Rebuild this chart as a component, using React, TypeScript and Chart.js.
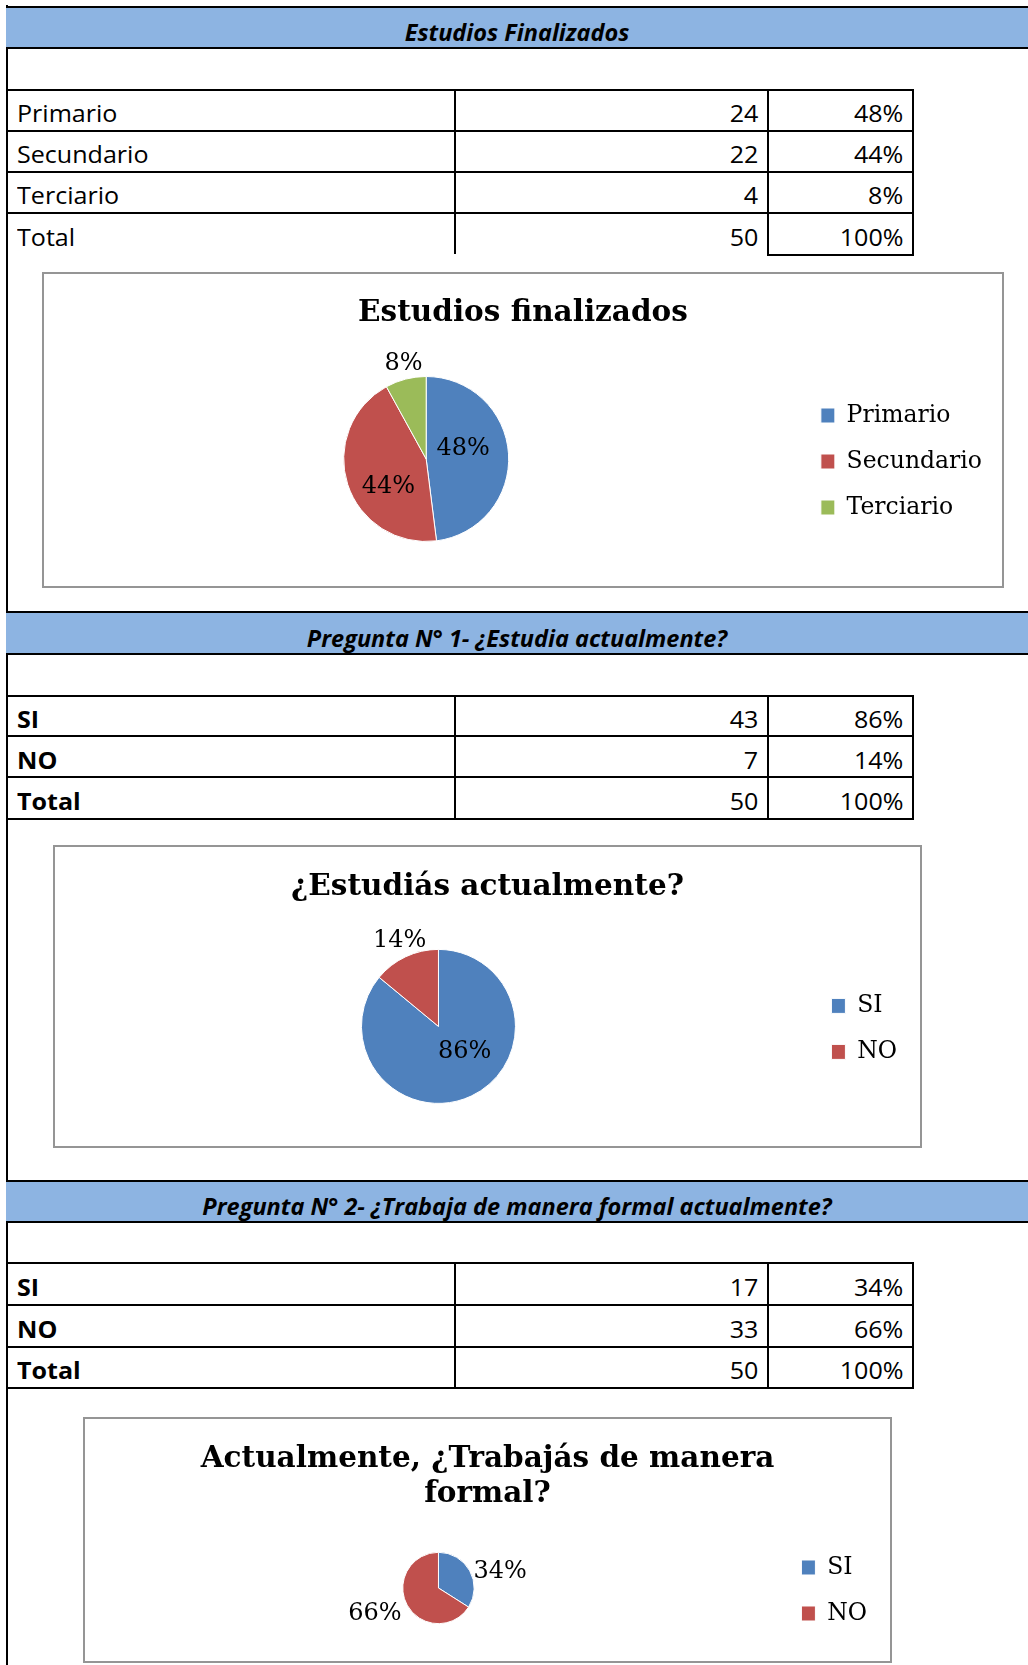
import React, { useEffect, useRef } from 'react';
import { Chart, registerables } from 'chart.js';

Chart.register(...registerables);

// ---------- data ----------
const studiesTitle = 'Estudios Finalizados';
const studiesCategories = ['Primario', 'Secundario', 'Terciario'];
const studiesCounts = [24, 22, 4];
const studiesChartTitle = 'Estudios finalizados';

const q1Title = 'Pregunta N° 1- ¿Estudia actualmente?';
const q1Categories = ['SI', 'NO'];
const q1Counts = [43, 7];
const q1ChartTitle = '¿Estudiás actualmente?';

const q2Title = 'Pregunta N° 2- ¿Trabaja de manera formal actualmente?';
const q2Categories = ['SI', 'NO'];
const q2Counts = [17, 33];
const q2ChartTitle = ['Actualmente, ¿Trabajás de manera', 'formal?'];

const totalLabel = 'Total';
const sliceColors = ['#4F81BD', '#C0504D', '#9BBB59'];

// ---------- helpers ----------
const sum = (a: number[]) => a.reduce((s, v) => s + v, 0);
const pct = (v: number, t: number) => Math.round((v / t) * 100) + '%';

const pctLabelPlugin = {
  id: 'pctLabels',
  afterDatasetsDraw(chart: any, _args: any, opts: any) {
    const meta = chart.getDatasetMeta(0);
    const data = chart.data.datasets[0].data as number[];
    const total = sum(data);
    const ctx = chart.ctx;
    ctx.save();
    ctx.font = opts.font;
    ctx.fillStyle = '#000';
    ctx.textAlign = 'center';
    ctx.textBaseline = 'middle';
    meta.data.forEach((arc: any, i: number) => {
      const p = arc.getProps(['x', 'y', 'startAngle', 'endAngle', 'outerRadius'], true);
      const mid = (p.startAngle + p.endAngle) / 2 + ((opts.shift[i] || 0) * Math.PI) / 180;
      const r = p.outerRadius * opts.radius[i];
      ctx.fillText(pct(data[i], total), p.x + Math.cos(mid) * r, p.y + Math.sin(mid) * r + opts.baselineFix);
    });
    ctx.restore();
  },
};

type PieCfg = {
  left: number; top: number; width: number; height: number;
  side: number; radius: number; titlePadTop: number; titlePadBottom: number; titleLineHeight: number;
  labelRadius: number[]; labelShift: number[];
};

function PieBox(props: { labels: string[]; values: number[]; title: string | string[]; cfg: PieCfg }) {
  const { labels, values, title, cfg } = props;
  const ref = useRef<HTMLCanvasElement>(null);
  useEffect(() => {
    const chart = new Chart(ref.current as HTMLCanvasElement, {
      type: 'pie',
      data: {
        labels,
        datasets: [
          {
            data: values,
            backgroundColor: sliceColors.slice(0, values.length),
            borderColor: '#ffffff',
            borderWidth: 1,
            radius: cfg.radius,
          } as any,
        ],
      },
      options: {
        responsive: false,
        animation: false,
        events: [],
        layout: { padding: { left: cfg.side, right: cfg.side, top: 0, bottom: 0 } },
        plugins: {
          title: {
            display: true,
            text: title,
            color: '#000',
            font: { family: 'DejaVu Serif', size: 29.5, weight: 'bold', lineHeight: cfg.titleLineHeight },
            padding: { top: cfg.titlePadTop, bottom: cfg.titlePadBottom },
          },
          legend: {
            position: 'right',
            fullSize: false,
            title: { display: true, text: '', padding: { top: 2, bottom: 2 }, font: { size: 1, lineHeight: 1 } },
            labels: {
              boxWidth: 14,
              boxHeight: 15,
              padding: 22.5,
              color: '#000',
              font: { family: 'DejaVu Serif', size: 23.5 },
            },
          },
          tooltip: { enabled: false },
          pctLabels: { radius: cfg.labelRadius, shift: cfg.labelShift, font: '24px "DejaVu Serif"', baselineFix: 2 },
        } as any,
      },
      plugins: [pctLabelPlugin],
    });
    return () => chart.destroy();
  }, []);
  return (
    <div
      style={{
        position: 'absolute', left: cfg.left, top: cfg.top, width: cfg.width, height: cfg.height,
        border: '2px solid #959595', boxSizing: 'border-box', background: '#fff',
      }}
    >
      <canvas ref={ref} width={cfg.width - 4} height={cfg.height - 4} style={{ display: 'block' }} />
    </div>
  );
}

function Header(props: { text: string; top: number; height: number }) {
  const { text, top, height } = props;
  return (
    <div
      style={{
        position: 'absolute', left: 6, top, width: 1022, height, background: '#8DB4E2',
        borderTop: '2px solid #000', borderBottom: '2px solid #000', boxSizing: 'border-box',
      }}
    >
      <div
        style={{
          position: 'absolute', left: 0, right: 0, bottom: 4.5, textAlign: 'center',
          font: 'italic bold 23.5px "Open Sans"', lineHeight: '22px', color: '#000',
        }}
      >
        {text}
      </div>
    </div>
  );
}

const hLine = (key: string, x1: number, x2: number, y: number) => (
  <div key={key} style={{ position: 'absolute', left: x1, top: y - 1, width: x2 - x1, height: 2, background: '#000' }} />
);
const vLine = (key: string, x: number, y1: number, y2: number) => (
  <div key={key} style={{ position: 'absolute', left: x - 1, top: y1 - 1, width: 2, height: y2 - y1 + 2, background: '#000' }} />
);

function DataTable(props: {
  categories: string[]; counts: number[]; lines: number[]; boldLabels: boolean; openTotal: boolean;
}) {
  const { categories, counts, lines, boldLabels, openTotal } = props;
  const total = sum(counts);
  const rows = categories.map((c, i) => [c, String(counts[i]), pct(counts[i], total)]);
  rows.push([totalLabel, String(total), pct(total, total)]);
  const colX = [6, 454.5, 767.5, 913];
  const els: any[] = [];
  const last = lines.length - 1;
  lines.forEach((y, i) => {
    if (i === last && openTotal) els.push(hLine('h' + i, colX[2] - 1, colX[3] + 1, y));
    else els.push(hLine('h' + i, colX[0], colX[3] + 1, y));
  });
  els.push(vLine('v1', colX[1], lines[0], openTotal ? lines[last] - 2 : lines[last]));
  els.push(vLine('v2', colX[2], lines[0], lines[last]));
  els.push(vLine('v3', colX[3], lines[0], lines[last]));
  rows.forEach((r, i) => {
    const baseline = lines[i + 1] - 8.5;
    const top = baseline - 20.4;
    const base = {
      position: 'absolute' as const, top, font: '23px "Open Sans"', lineHeight: '23px', color: '#000',
      whiteSpace: 'nowrap' as const,
    };
    els.push(
      <div
        key={'a' + i}
        style={{ ...base, left: 17, fontWeight: boldLabels ? 'bold' : 'normal', transform: 'scaleX(1.09)', transformOrigin: 'left center' }}
      >
        {r[0]}
      </div>
    );
    els.push(
      <div key={'b' + i} style={{ ...base, right: 1028 - 758, textAlign: 'right', transform: 'scaleX(1.09)', transformOrigin: 'right center' }}>
        {r[1]}
      </div>
    );
    els.push(
      <div key={'c' + i} style={{ ...base, right: 1028 - 903.5, textAlign: 'right', transform: 'scaleX(1.09)', transformOrigin: 'right center' }}>
        {r[2]}
      </div>
    );
  });
  return <>{els}</>;
}

export default function App() {
  return (
    <div
      style={{
        position: 'absolute', left: 0, top: 0, width: 1028, height: 1665, background: '#fff',
        overflow: 'hidden', fontFamily: '"Open Sans"',
      }}
    >
      {vLine('page-left', 7, 6, 1666)}

      <Header text={studiesTitle} top={6} height={43} />
      <DataTable categories={studiesCategories} counts={studiesCounts} lines={[90, 130.8, 172, 213.3, 255]} boldLabels={false} openTotal={true} />
      <PieBox
        labels={studiesCategories}
        values={studiesCounts}
        title={studiesChartTitle}
        cfg={{
          left: 42, top: 272, width: 962, height: 316, side: 10, radius: 82.5,
          titlePadTop: 21.3, titlePadBottom: 1.3, titleLineHeight: 1.2,
          labelRadius: [0.47, 0.556, 1.207], labelShift: [-14.4, -16.5, 1.3],
        }}
      />

      <Header text={q1Title} top={611} height={44} />
      <DataTable categories={q1Categories} counts={q1Counts} lines={[695.6, 736.4, 777.4, 818.6]} boldLabels={true} openTotal={false} />
      <PieBox
        labels={q1Categories}
        values={q1Counts}
        title={q1ChartTitle}
        cfg={{
          left: 53, top: 845, width: 869, height: 303, side: 13, radius: 77,
          titlePadTop: 22.3, titlePadBottom: 2.1, titleLineHeight: 1.2,
          labelRadius: [0.46, 1.248], labelShift: [-22.6, 1.4],
        }}
      />

      <Header text={q2Title} top={1180} height={43} />
      <DataTable categories={q2Categories} counts={q2Counts} lines={[1262.7, 1305, 1346.6, 1388]} boldLabels={true} openTotal={false} />
      <PieBox
        labels={q2Categories}
        values={q2Counts}
        title={q2ChartTitle}
        cfg={{
          left: 83, top: 1417, width: 809, height: 246, side: 13, radius: 35.7,
          titlePadTop: 22.7, titlePadBottom: 3.3, titleLineHeight: 1.186,
          labelRadius: [1.798, 1.901], labelShift: [12.5, 8.4],
        }}
      />
    </div>
  );
}
